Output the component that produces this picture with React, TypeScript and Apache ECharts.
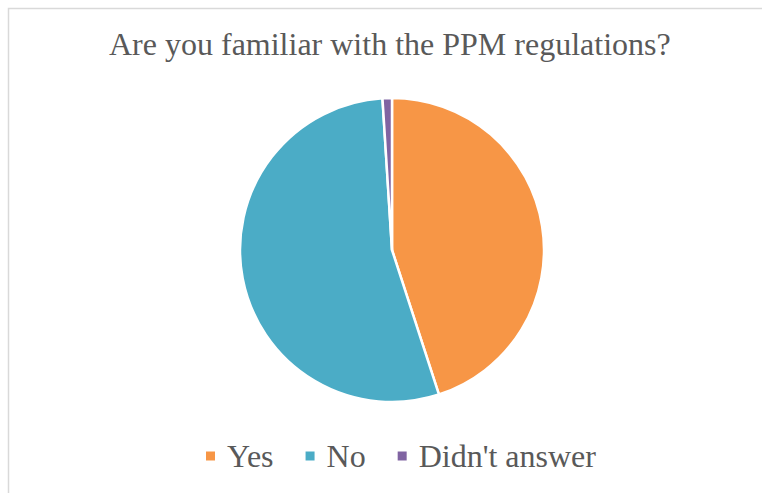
import React, { useEffect, useRef } from "react";
import * as echarts from "echarts";

const categories = ["Yes", "No", "Didn't answer"];
const values = [45, 54, 1];
const colors = ["#F79646", "#4BACC6", "#8064A2"];
const titleText = "Are you familiar with the PPM regulations?";
const serif = "'Liberation Serif', 'Times New Roman', serif";

export default function App() {
  const ref = useRef<HTMLDivElement>(null);
  useEffect(() => {
    const chart = echarts.init(ref.current!, null, { renderer: "svg" });
    chart.setOption({
      animation: false,
      backgroundColor: "#ffffff",
      title: {
        text: titleText,
        left: 109,
        top: 28,
        padding: 0,
        textStyle: {
          fontFamily: serif,
          fontWeight: "normal",
          fontSize: 32,
          color: "#595959",
        },
      },
      legend: {
        bottom: 16,
        left: 199,
        itemWidth: 11,
        itemHeight: 11,
        itemGap: 30,
        icon: "rect",
        textStyle: {
          fontFamily: serif,
          fontSize: 32,
          color: "#595959",
          padding: [0, 0, 0, 6],
        },
        data: categories,
      },
      graphic: [
        {
          type: "rect",
          shape: { x: 8.5, y: 8.5, width: 760, height: 490 },
          style: { fill: "none", stroke: "#d9d9d9", lineWidth: 1.5 },
          silent: true,
        },
      ],
      series: [
        {
          type: "pie",
          center: [392, 250],
          radius: [0, 152],
          startAngle: 90,
          clockwise: true,
          label: { show: false },
          labelLine: { show: false },
          itemStyle: { borderColor: "#ffffff", borderWidth: 2.5 },
          data: categories.map((c, i) => ({
            name: c,
            value: values[i],
            itemStyle: { color: colors[i] },
          })),
        },
      ],
    });
    return () => chart.dispose();
  }, []);
  return (
    <div
      ref={ref}
      style={{ position: "fixed", left: 0, top: 0, width: 762, height: 493 }}
    />
  );
}
